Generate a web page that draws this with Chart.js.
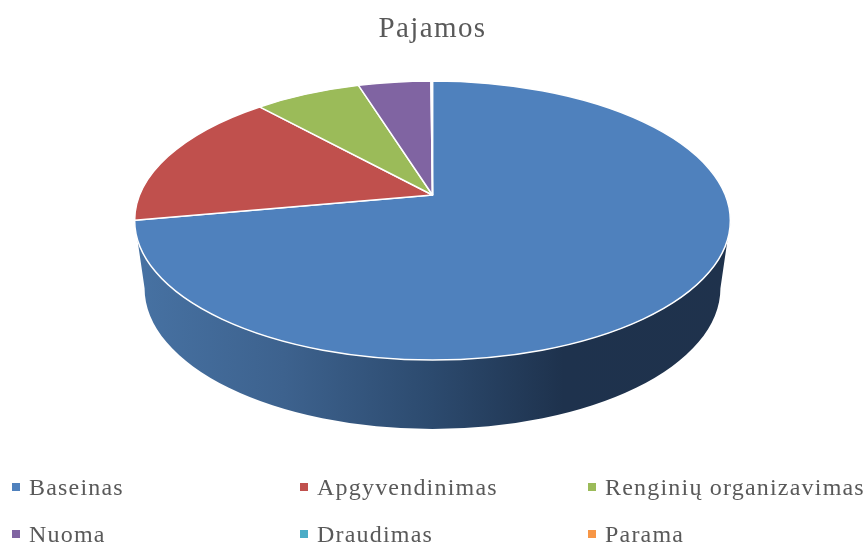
<!DOCTYPE html>
<html>
<head>
<meta charset="utf-8">
<title>Pajamos</title>
<script src="https://cdn.jsdelivr.net/npm/chart.js@4"></script>
<style>
	html, body { margin: 0; padding: 0; background: #fff; }
	#wrap { position: relative; width: 868px; height: 545px; overflow: hidden; }
	#chart { display: block; }
	.legend-item {
		position: absolute;
		font: 24px "Liberation Serif", serif;
		letter-spacing: 1.2px;
		line-height: 28px;
		color: #595959;
		white-space: nowrap;
	}
	.legend-item i {
		position: absolute;
		left: -17px;
		top: 10px;
		width: 8px;
		height: 8px;
	}
</style>
</head>
<body>
<div id="wrap">
	<canvas id="chart" width="868" height="545"></canvas>
</div>
<script>
const titleText = 'Pajamos';
const categories = ['Baseinas', 'Apgyvendinimas', 'Renginių organizavimas', 'Nuoma', 'Draudimas', 'Parama'];
const shares = [72.1, 16.2, 6.9, 4.7, 0.05, 0.05];
const colors = ['#4f81bd', '#c0504d', '#9bbb59', '#8064a2', '#4bacc6', '#f79646'];

const legendX = [29, 317, 605];
const legendY = [473, 520];

// perspective look of the pie, all relative to the radius Chart.js gives
const squashX = 2.135;
const apexShift = -0.183;
const baseDrop = 0.485;
const baseRx = 2.064;
const baseRy = 1.01;

const pie3d = {
	id: 'pie3d',
	beforeDraw(chart) {
		chart.ctx.letterSpacing = '1.4px';
	},
	beforeDatasetsDraw(chart) {
		const ctx = chart.ctx;
		const arcs = chart.getDatasetMeta(0).data;
		const cx = arcs[0].x, cy = arcs[0].y, r = arcs[0].outerRadius;
		const rx = r * squashX;
		const k = Math.sqrt(1 - apexShift * apexShift);

		// side wall
		const grad = ctx.createLinearGradient(cx - rx, 0, cx + rx, 0);
		grad.addColorStop(0, '#4772a3');
		grad.addColorStop(0.25, '#3d628e');
		grad.addColorStop(0.5, '#2c4a6e');
		grad.addColorStop(0.72, '#1e324d');
		grad.addColorStop(1, '#1f324c');
		ctx.save();
		ctx.beginPath();
		ctx.ellipse(cx, cy, rx, r, 0, 0, Math.PI);
		ctx.lineTo(cx - r * baseRx, cy + r * baseDrop);
		ctx.ellipse(cx, cy + r * baseDrop, r * baseRx, r * baseRy, 0, Math.PI, 0, true);
		ctx.closePath();
		ctx.fillStyle = grad;
		ctx.fill();

		// top face, slice angles moved so that the tip sits behind the ellipse centre
		const warp = (a) => {
			const d = 1 + apexShift * Math.sin(a);
			return Math.atan2((Math.sin(a) + apexShift) / d, Math.cos(a) * k / d);
		};
		arcs.forEach((arc, i) => {
			const a0 = warp(arc.startAngle);
			let a1 = warp(arc.endAngle);
			if (a1 < a0) a1 += Math.PI * 2;
			ctx.beginPath();
			ctx.moveTo(cx, cy + r * apexShift);
			ctx.ellipse(cx, cy, rx, r, 0, a0, a1);
			ctx.closePath();
			ctx.fillStyle = colors[i];
			ctx.fill();
			ctx.strokeStyle = '#fff';
			ctx.lineWidth = 1.5;
			ctx.lineJoin = 'round';
			ctx.stroke();
		});
		ctx.restore();
		return false;
	}
};

let chart = new Chart(document.getElementById('chart').getContext('2d'), {
	type: 'pie',
	data: {
		labels: categories,
		datasets: [{
			data: shares,
			backgroundColor: colors,
			borderColor: '#fff',
			borderWidth: 1.5
		}]
	},
	options: {
		responsive: false,
		animation: false,
		layout: {
			padding: { top: 0, left: 0, right: 3, bottom: 184.25 }
		},
		plugins: {
			legend: { display: false },
			tooltip: { enabled: false },
			title: {
				display: true,
				text: titleText,
				color: '#595959',
				font: { family: '"Liberation Serif", serif', size: 29, weight: 'normal', lineHeight: 1.2 },
				padding: { top: 11.5, bottom: 33.95 }
			}
		}
	},
	plugins: [pie3d]
});

// legend sits on a fixed three column grid, which the built-in one cannot do
const wrap = document.getElementById('wrap');
categories.forEach((name, i) => {
	const item = document.createElement('div');
	item.className = 'legend-item';
	item.style.left = legendX[i % 3] + 'px';
	item.style.top = legendY[Math.floor(i / 3)] + 'px';
	item.textContent = name;
	const box = document.createElement('i');
	box.style.background = colors[i];
	item.appendChild(box);
	wrap.appendChild(item);
});
</script>
</body>
</html>
